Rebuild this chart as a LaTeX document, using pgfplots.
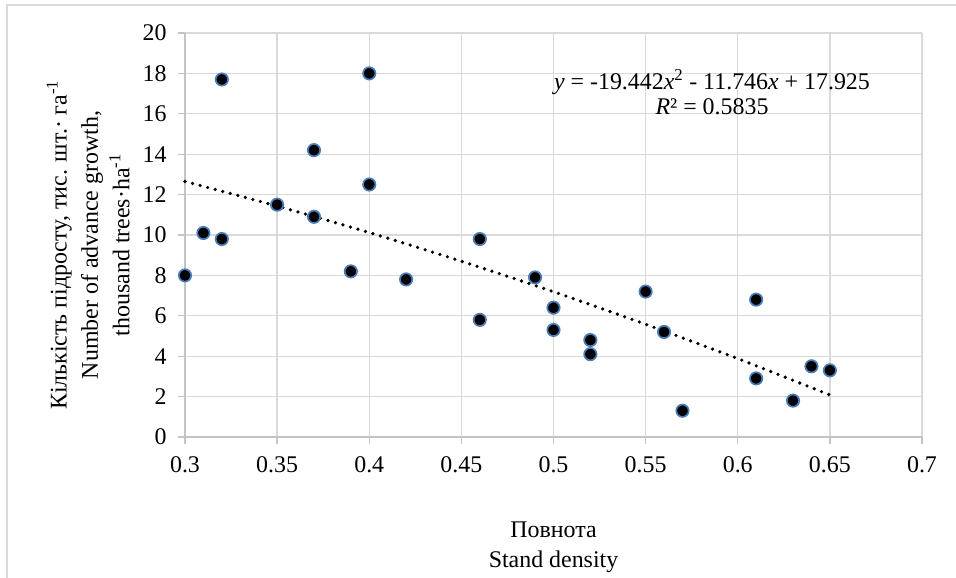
\documentclass[border=0pt]{standalone}
\usepackage{fontspec}
\setmainfont{Liberation Serif}
\usepackage{pgfplots}
\pgfplotsset{compat=1.18}
\definecolor{gridc}{HTML}{D9D9D9}
\definecolor{axc}{HTML}{C4C4C4}
\definecolor{mkb}{HTML}{4A7EBB}

\begin{document}
\begin{tikzpicture}
\useasboundingbox (0,0) rectangle (956bp,578bp);
\draw[gridc, line width=1.5bp] (7bp,-5bp) -- (7bp,573bp) -- (962bp,573bp);
\begin{axis}[at={(185bp,141bp)}, anchor=south west,
  scale only axis, width=737bp, height=404bp,
  xmin=0.3, xmax=0.7, ymin=0, ymax=20,
  xtick={0.3,0.35,0.4,0.45,0.5,0.55,0.6,0.65,0.7},
  xticklabels={\textrm{0.3},\textrm{0.35},\textrm{0.4},\textrm{0.45},\textrm{0.5},
    \textrm{0.55},\textrm{0.6},\textrm{0.65},\textrm{0.7}},
  ytick={0,2,4,6,8,10,12,14,16,18,20},
  yticklabels={\textrm{0},\textrm{2},\textrm{4},\textrm{6},\textrm{8},\textrm{10},
    \textrm{12},\textrm{14},\textrm{16},\textrm{18},\textrm{20}},
  axis lines=left, axis line style={axc, line width=1.3bp, -},
  grid=major, major grid style={gridc, line width=1.3bp},
  tick align=outside, major tick length=7bp,
  tick style={axc, line width=1.3bp},
  tick label style={font=\rmfamily\fontsize{24}{28}\selectfont},
  xticklabel style={yshift=-9bp},
  yticklabel style={xshift=-8bp},
  clip=false]
\addplot[only marks, mark=*, mark size=6.2bp,
  mark options={fill=black, draw=mkb, line width=1.7bp}] coordinates {
  (0.30,8.0) (0.31,10.1) (0.32,17.7) (0.32,9.8) (0.35,11.5)
  (0.37,14.2) (0.37,10.9) (0.39,8.2) (0.40,18.0) (0.40,12.5)
  (0.42,7.8) (0.46,9.8) (0.46,5.8) (0.49,7.9) (0.50,6.4)
  (0.50,5.3) (0.52,4.8) (0.52,4.1) (0.55,7.2) (0.56,5.2)
  (0.57,1.3) (0.61,6.8) (0.61,2.9) (0.63,1.8) (0.64,3.5)
  (0.65,3.3)};
\addplot[black, line width=3.6bp, line cap=round, dash pattern=on 0bp off 7.8bp, smooth]
  coordinates {(0.30,12.65) (0.35,11.43) (0.40,10.12) (0.45,8.70)
  (0.50,7.19) (0.55,5.58) (0.60,3.88) (0.65,2.08)};
\end{axis}
\node[font=\fontsize{24}{25}\selectfont, align=center] at (712bp,486bp)
  {\textit{y} = -19.442\textit{x}\textsuperscript{2} - 11.746\textit{x} + 17.925\\\textit{R}² = 0.5835};
\node[font=\fontsize{24}{30}\selectfont, align=center] at (553.5bp,31bp)
  {Повнота\\Stand density};
\node[font=\fontsize{24}{31.5}\selectfont, align=center, rotate=90] at (88bp,333bp)
  {Кількість підросту, тис. шт.· га\textsuperscript{-1}\\Number of advance growth,\\thousand trees·ha\textsuperscript{-1}};
\end{tikzpicture}
\end{document}
